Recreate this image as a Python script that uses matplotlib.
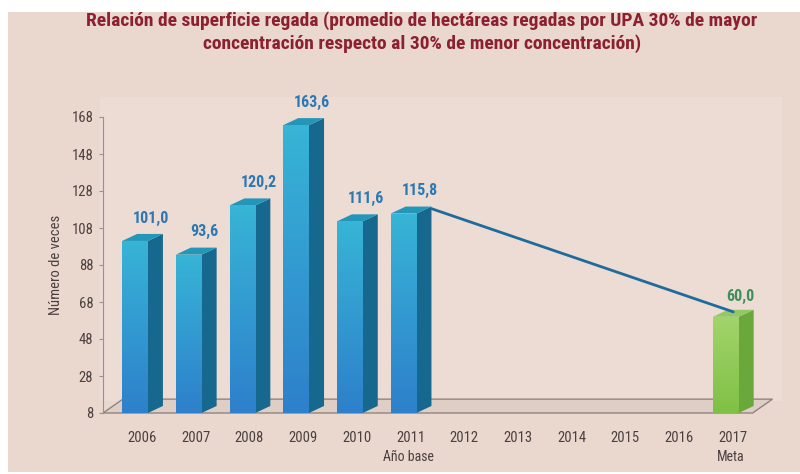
import numpy as np
import matplotlib
matplotlib.use("Agg")
import matplotlib.pyplot as plt
from matplotlib.patches import Rectangle, Polygon
from matplotlib.colors import LinearSegmentedColormap

# ---------------------------
# data
# ---------------------------
years = [2006, 2007, 2008, 2009, 2010, 2011, 2012, 2013, 2014, 2015, 2016, 2017]
base_years = [2006, 2007, 2008, 2009, 2010, 2011]
base_values = [101.0, 93.6, 120.2, 163.6, 111.6, 115.8]
goal_year = 2017
goal_value = 60.0
sub_labels = {2011: "Año base", 2017: "Meta"}
y_ticks = [8, 28, 48, 68, 88, 108, 128, 148, 168]

title = ("Relación de superficie regada (promedio de hectáreas regadas por UPA 30% de mayor\n"
         "concentración respecto al 30% de menor concentración)")

# ---------------------------
# style
# ---------------------------
narrow = ["Liberation Sans Narrow", "Roboto Condensed", "Liberation Sans", "DejaVu Sans"]
bg = "#ead8cf"
wall = "#eddcd4"
title_col = "#8c2030"
text_col = "#4a4040"
blue_lbl = "#2b78b4"
green_lbl = "#3f8f5c"

ymin, ymax = 8, 168
w = 0.48      # front face width (data units)
dx = 0.28     # depth offset in x
dy = 3.8      # depth offset in y

fig = plt.figure(figsize=(8, 4.74), dpi=100, facecolor="white")
fig.patches.append(Rectangle((8 / 800, 2 / 474), 792 / 800, 460 / 474,
                             transform=fig.transFigure, facecolor=bg,
                             edgecolor="none", zorder=-10))
fig.patches.append(Rectangle((100 / 800, 73 / 474), 682 / 800, 304 / 474,
                             transform=fig.transFigure, facecolor=wall,
                             edgecolor="none", zorder=-9))

ax = fig.add_axes([103 / 800, 61 / 474, 677 / 800, 296 / 474])
ax.set_facecolor("none")
ax.set_xlim(2005.404, 2018.01)
ax.set_ylim(ymin, ymax)

# floor
fl_x0, fl_x1 = 2005.404, 2017.5
fdx, fdy = 0.37, 7.5
floor = Polygon([(fl_x0, ymin), (fl_x1, ymin), (fl_x1 + fdx, ymin + fdy),
                 (fl_x0 + fdx, ymin + fdy)], closed=True, facecolor="#dfcec6",
                edgecolor="#8f8580", linewidth=1.0, zorder=1, clip_on=False)
ax.add_patch(floor)

grad = np.linspace(0, 1, 64).reshape(-1, 1)


def draw_bar3d(x, v, front_cols, side_col, top_col):
    bar = ax.bar([x], [v - ymin], bottom=ymin, width=w, color=front_cols[1],
                 zorder=3, linewidth=0)[0]
    cmap = LinearSegmentedColormap.from_list("g", front_cols)
    im = ax.imshow(grad, cmap=cmap, extent=(x - w / 2, x + w / 2, ymin, v),
                   origin="lower", aspect="auto", zorder=3.1)
    im.set_clip_path(bar)
    side = Polygon([(x + w / 2, ymin), (x + w / 2 + dx, ymin + dy),
                    (x + w / 2 + dx, v + dy), (x + w / 2, v)], closed=True,
                   facecolor=side_col, edgecolor="none", zorder=3)
    top = Polygon([(x - w / 2, v), (x + w / 2, v), (x + w / 2 + dx, v + dy),
                   (x - w / 2 + dx, v + dy)], closed=True,
                  facecolor=top_col, edgecolor="none", zorder=3)
    ax.add_patch(side)
    ax.add_patch(top)


for yr, val in zip(base_years, base_values):
    draw_bar3d(yr, val, ["#2e80cb", "#37b4d6"], "#17688f", "#2397ba")
    ax.annotate(f"{val:.1f}".replace(".", ","), (yr + 0.3, val),
                xytext=(0, 16.5), textcoords="offset points", ha="center",
                va="center", fontsize=11.5, fontweight="bold", color=blue_lbl,
                family=narrow, zorder=6)

draw_bar3d(goal_year, goal_value, ["#80c046", "#a2d46c"], "#6aa83c", "#93c865")
ax.annotate(f"{goal_value:.1f}".replace(".", ","), (goal_year + 0.28, goal_value),
            xytext=(0, 14.5), textcoords="offset points", ha="center",
            va="center", fontsize=11.5, fontweight="bold", color=green_lbl,
            family=narrow, zorder=6)

# trend line from base year to goal
ax.plot([base_years[-1] + w / 2 + dx, goal_year + dx / 2],
        [base_values[-1] + dy * 0.7, goal_value + dy * 0.7],
        color="#1f6b9c", linewidth=2, zorder=5, solid_capstyle="round")

# axes
for s in ["top", "right", "bottom"]:
    ax.spines[s].set_visible(False)
ax.spines["left"].set_color("#9a9090")
ax.set_yticks(y_ticks)
ax.set_yticklabels([str(t) for t in y_ticks], family=narrow, fontsize=10.5,
                   color=text_col)
ax.tick_params(axis="y", length=3, color="#9a9090", pad=4)

ax.set_xticks([y + 0.13 for y in years])
ax.set_xticklabels([str(y) for y in years], family=narrow, fontsize=10.5,
                   color=text_col)
ax.tick_params(axis="x", length=0, pad=13)

for yr, lbl in sub_labels.items():
    ax.annotate(lbl, (yr + 0.1, 0), xycoords=("data", "axes fraction"),
                xytext=(0, -32), textcoords="offset points", ha="center",
                va="center", fontsize=10, color=text_col, family=narrow)

ax.set_ylabel("Número de veces", family=narrow, fontsize=10.5, color=text_col,
              labelpad=6)

fig.text(0.527, 1 - 32.5 / 474, title, ha="center", va="center",
         fontsize=14, fontweight="bold", color=title_col, family=narrow,
         linespacing=1.3)

fig.savefig("out.png", dpi=100, facecolor="white")
